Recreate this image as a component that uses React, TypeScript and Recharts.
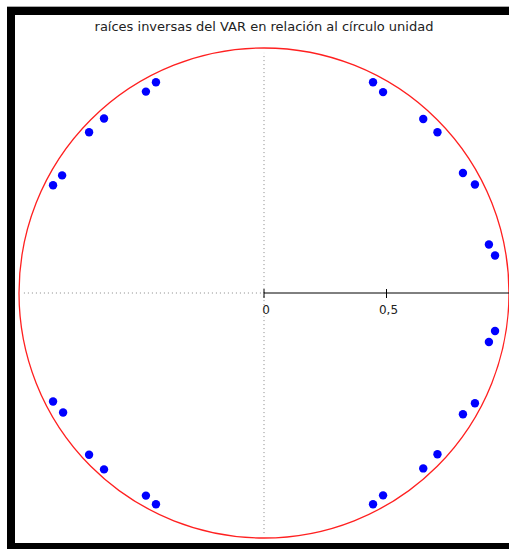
import {
  ScatterChart, Scatter, XAxis, YAxis, ReferenceLine, ReferenceArea, ReferenceDot,
} from 'recharts';

// raíces inversas (parte real / parte imaginaria)
const rootsRe = [
  0.445, 0.486, 0.65, 0.708, 0.812, 0.861, 0.918, 0.943,
  0.943, 0.918, 0.861, 0.812, 0.708, 0.65, 0.486, 0.445,
  -0.441, -0.482, -0.653, -0.714, -0.824, -0.861,
  -0.861, -0.82, -0.714, -0.653, -0.482, -0.441,
];
const rootsIm = [
  0.86, 0.82, 0.71, 0.656, 0.49, 0.443, 0.198, 0.153,
  -0.155, -0.2, -0.45, -0.495, -0.658, -0.716, -0.826, -0.862,
  0.86, 0.822, 0.712, 0.656, 0.48, 0.44,
  -0.443, -0.488, -0.66, -0.72, -0.827, -0.862,
];
const axisTicks = [0, 0.5];
const tickLabels = ['0', '0,5'];

const roots = rootsRe.map((re, i) => ({ re, im: rootsIm[i] }));

const FONT = '"DejaVu Sans", Verdana, sans-serif';

function UnitCircle(props: any) {
  const { x, y, width, height } = props;
  return (
    <ellipse
      cx={x + width / 2}
      cy={y + height / 2}
      rx={width / 2}
      ry={height / 2}
      fill="none"
      stroke="#ff2020"
      strokeWidth={1.3}
    />
  );
}

function AxisTick(label: string) {
  return (props: any) => {
    const { cx, cy } = props;
    return (
      <g>
        <line x1={cx} y1={cy - 4} x2={cx} y2={cy + 5} stroke="#000" strokeWidth={1} />
        <text x={cx + 2} y={cy + 21} textAnchor="middle" fontSize={12} fontFamily={FONT} fill="#222">
          {label}
        </text>
      </g>
    );
  };
}

export default function App() {
  return (
    <div style={{ position: 'fixed', left: 0, top: 0, width: 509, height: 549, overflow: 'hidden', background: '#fff' }}>
      <div style={{ position: 'absolute', left: 7, top: 6, width: 600, height: 1, background: '#aaa' }} />
      <div
        style={{
          position: 'absolute', left: 7, top: 7, width: 600, height: 544,
          boxSizing: 'border-box', border: '8px solid #000', background: '#fff',
        }}
      />
      <div
        style={{
          position: 'absolute', left: 0, top: 19, width: 528, textAlign: 'center',
          fontFamily: FONT, fontSize: 13, color: '#222',
        }}
      >
        raíces inversas del VAR en relación al círculo unidad
      </div>
      <div style={{ position: 'absolute', left: 0, top: 0 }}>
        <ScatterChart width={509} height={549} margin={{ top: 48, right: 0, bottom: 11, left: 19 }}>
          <XAxis type="number" dataKey="re" domain={[-1, 1]} hide />
          <YAxis type="number" dataKey="im" domain={[-1, 1]} hide />
          <ReferenceArea x1={-1} x2={1} y1={-1} y2={1} shape={UnitCircle} />
          <ReferenceLine
            segment={[{ x: 0, y: -0.98 }, { x: 0, y: 0.98 }]}
            stroke="#888"
            strokeDasharray="1 3"
          />
          <ReferenceLine
            segment={[{ x: -0.98, y: 0 }, { x: 0, y: 0 }]}
            stroke="#888"
            strokeDasharray="1 3"
          />
          <ReferenceLine segment={[{ x: 0, y: 0 }, { x: 1, y: 0 }]} stroke="#000" strokeWidth={1} />
          {axisTicks.map((t, i) => (
            <ReferenceDot key={t} x={t} y={0} r={0} shape={AxisTick(tickLabels[i])} />
          ))}
          <Scatter data={roots} fill="#0000ff" isAnimationActive={false} shape={(p: any) => (
            <circle cx={p.cx} cy={p.cy} r={4.2} fill="#0000ff" />
          )} />
        </ScatterChart>
      </div>
    </div>
  );
}
